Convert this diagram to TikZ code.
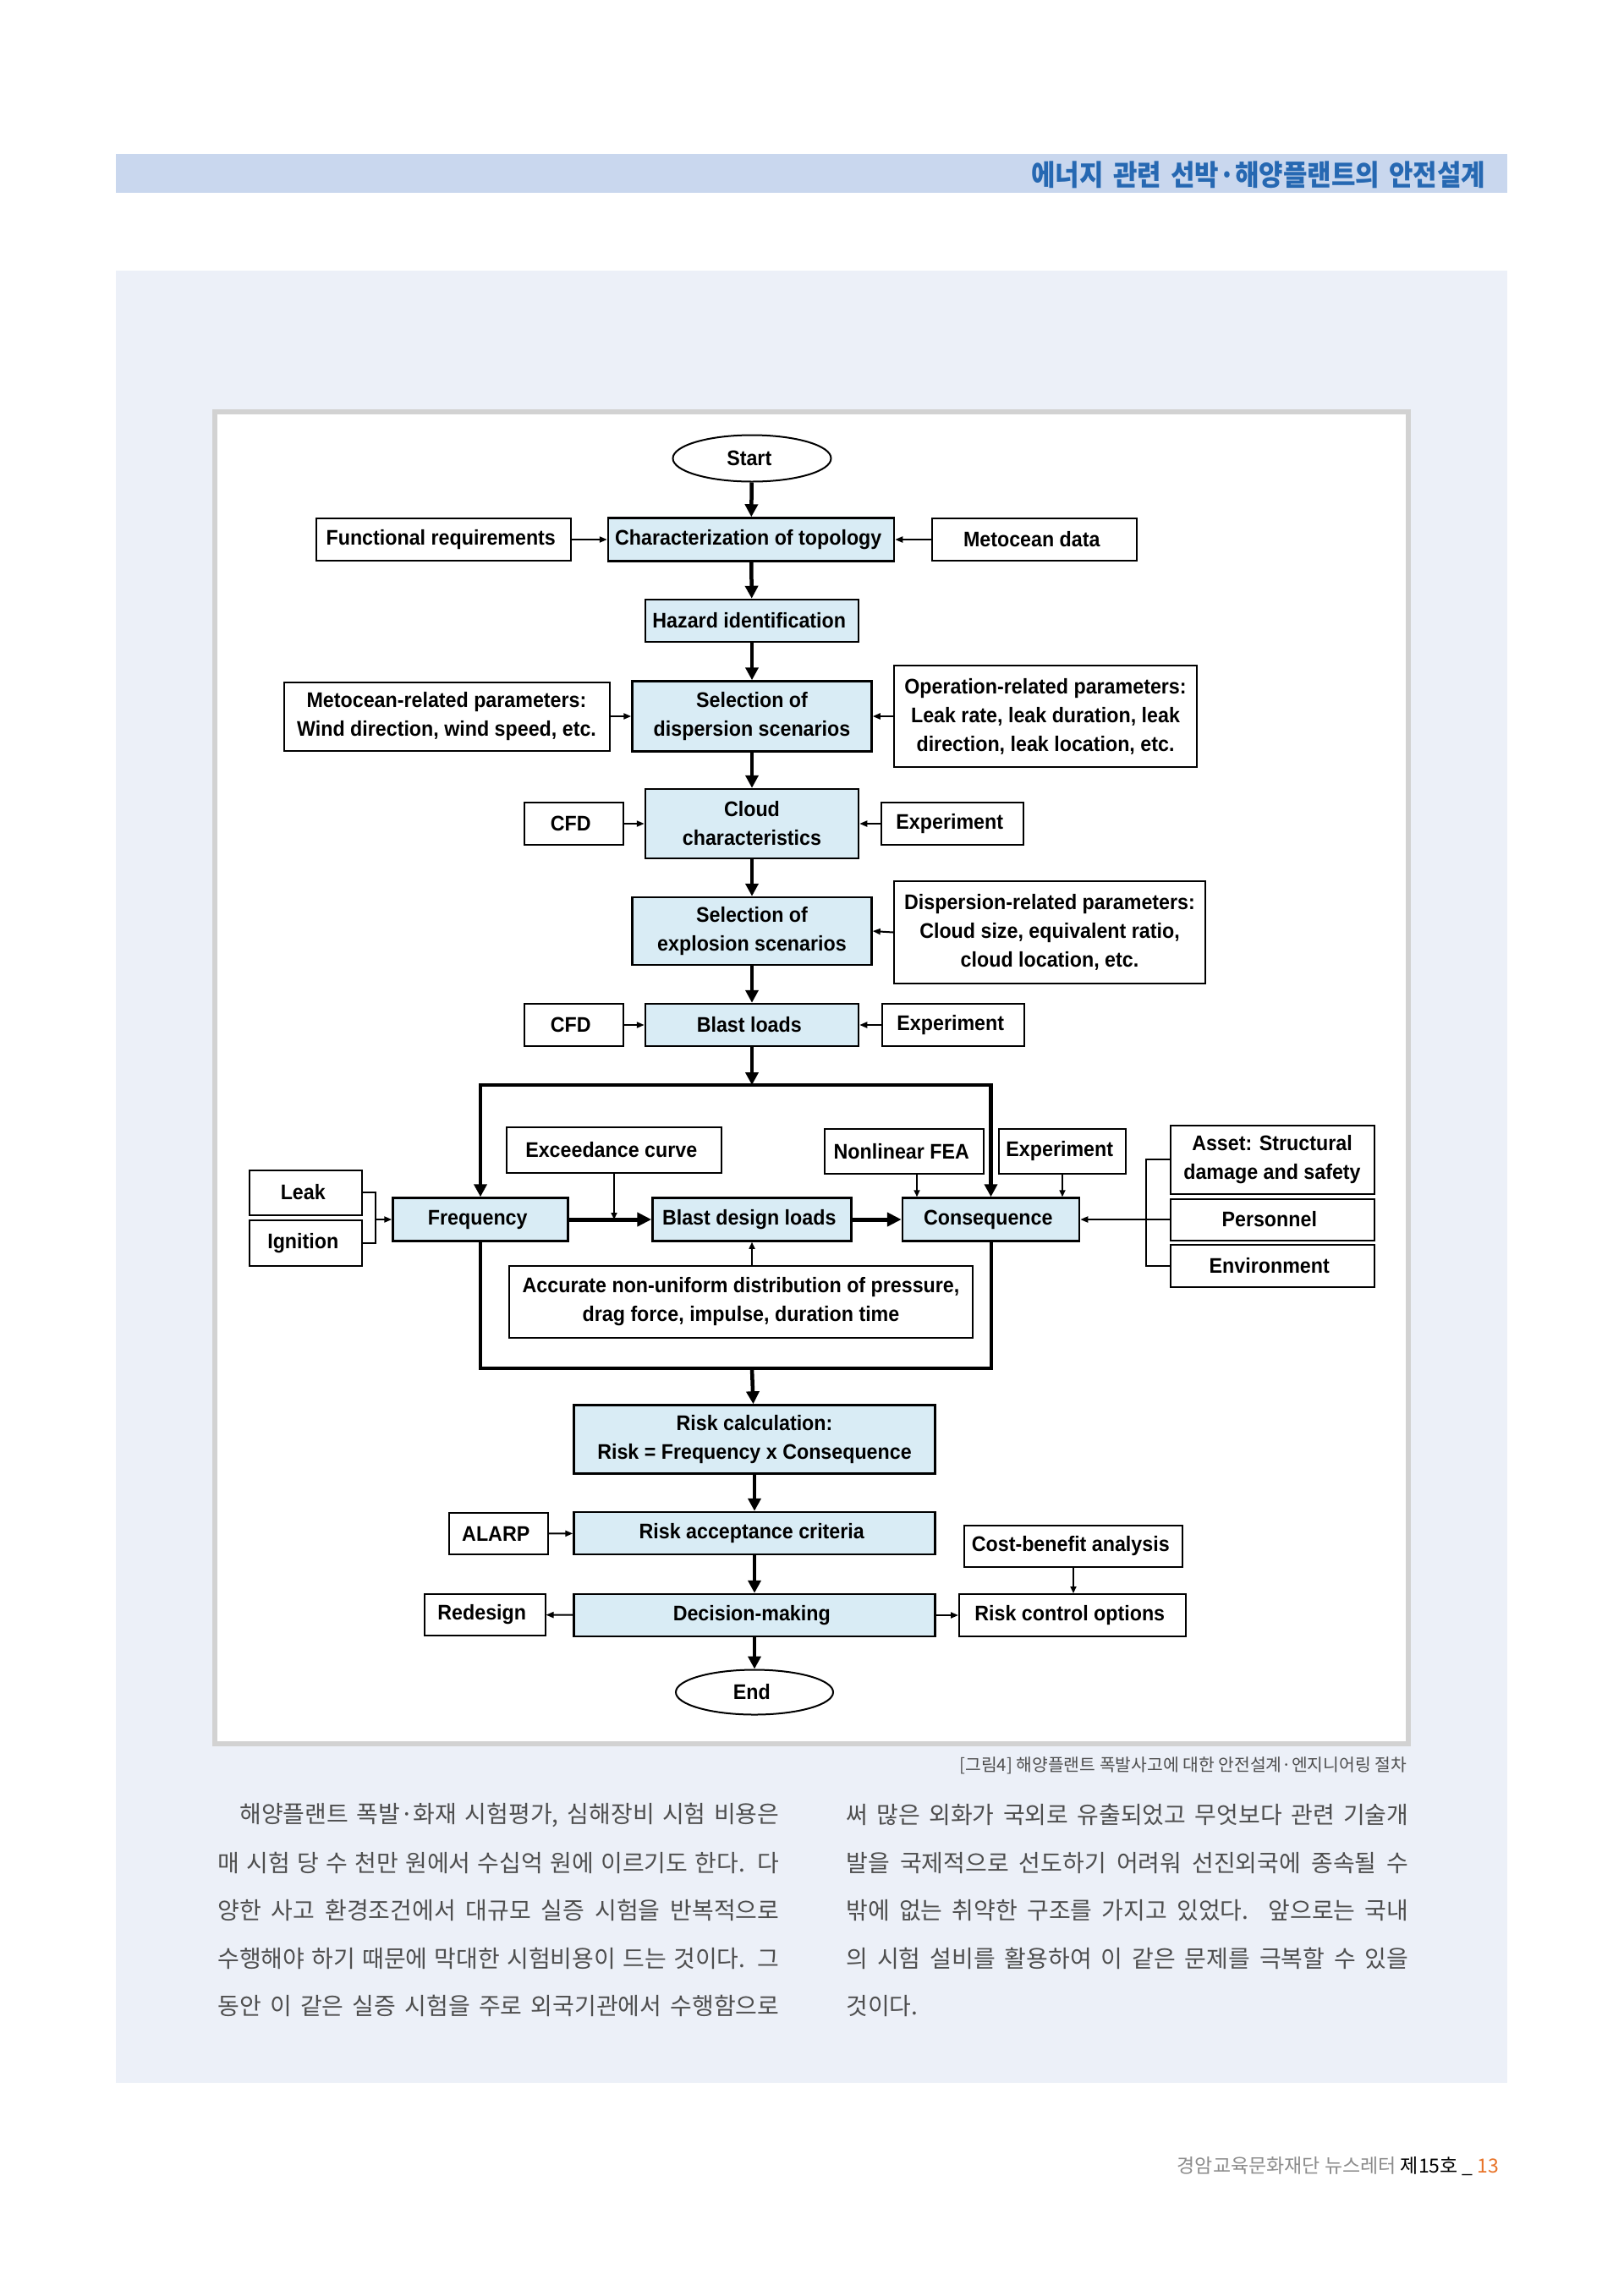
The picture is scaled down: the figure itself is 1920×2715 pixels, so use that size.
\documentclass[tikz,border=0pt]{standalone}
\usepackage{fontspec}
\usetikzlibrary{shapes.geometric, arrows.meta}
\newfontfamily\boxfont{Liberation Sans}[FakeStretch=0.93]
\newfontfamily\kofont{Noto Sans CJK KR}
\newfontfamily\headfont{Noto Sans CJK KR}[FakeStretch=0.91, WordSpace=1.6]
\definecolor{procfill}{RGB}{217,236,245}
\definecolor{panelfill}{RGB}{236,240,248}
\definecolor{barfill}{RGB}{201,215,238}
\definecolor{barblue}{RGB}{38,104,178}
\definecolor{framegray}{RGB}{210,210,210}
\definecolor{bodygray}{RGB}{78,78,78}
\definecolor{footgray}{RGB}{140,140,140}
\definecolor{pageorange}{RGB}{232,115,40}
\begin{document}
\begin{tikzpicture}[
		x = 0.5pt, y = -0.5pt,
		every node/.style = { font = \boxfont\bfseries\fontsize{12.5}{17}\selectfont, align = center, inner sep = 0pt },
		boxsize/.style 2 args = { minimum width = #1*0.5pt, minimum height = #2*0.5pt },
		process/.style = { draw, fill = procfill, line width = 1.25pt },
		input/.style = { draw, fill = white, line width = 1pt },
		terminal/.style = { draw, ellipse, fill = white, line width = 1pt },
		mainflow/.style = { line width = 2.25pt, -{Triangle[length = 7.5pt, width = 7.5pt]} },
		heavyflow/.style = { line width = 2.5pt, -{Triangle[length = 8.5pt, width = 8pt]} },
		sideflow/.style = { line width = 1pt, -{Triangle[length = 4.5pt, width = 3.5pt]} },
		thinflow/.style = { line width = 0.8pt, -{Triangle[length = 4pt, width = 3.5pt]} },
		bracket/.style = { line width = 1pt },
		loopline/.style = { line width = 2pt },
		bodytext/.style = { font = \kofont\fontsize{14}{16}\selectfont, text = bodygray, anchor = west }
	]
	% page
	\fill [white] (0, 0) rectangle (1920, 2715);
	\useasboundingbox (0, 0) rectangle (1920, 2715);
	\fill [barfill] (137, 182) rectangle (1782, 228);
	\node [anchor = east, font = \headfont\bfseries\fontsize{17}{19}\selectfont, text = barblue] (header) at (1768, 207) { 에너지 관련 선박·해양플랜트의 안전설계 };
	\fill [panelfill] (137, 320) rectangle (1782, 2463);
	\draw [framegray, fill = white, line width = 3pt] (254, 487) rectangle (1665, 2062);

	% main column
	\node [terminal, boxsize = {187}{55}] (start) at (889, 542) { Start };
	\node [process, boxsize = {338}{51}] (topo) at (888, 638) { Characterization of topology };
	\node [process, boxsize = {252}{50}] (hazard) at (889, 734) { Hazard identification };
	\node [process, boxsize = {283}{83}] (disp) at (889, 847) { Selection of\\dispersion scenarios };
	\node [process, boxsize = {252}{82}] (cloud) at (889, 974) { Cloud\\characteristics };
	\node [process, boxsize = {283}{80}] (expl) at (889, 1101) { Selection of\\explosion scenarios };
	\node [process, boxsize = {252}{50}] (blast) at (889, 1212) { Blast loads };

	% inputs of the upper part
	\node [input, boxsize = {301}{50}] (funcreq) at (524.5, 638) { Functional requirements };
	\node [input, boxsize = {242}{50}] (metdata) at (1223, 638) { Metocean data };
	\node [input, boxsize = {385}{81}] (metparam) at (528, 847) { Metocean-related parameters:\\Wind direction, wind speed, etc. };
	\node [input, boxsize = {358}{120}] (operparam) at (1236, 847) { Operation-related parameters:\\Leak rate, leak duration, leak\\direction, leak location, etc. };
	\node [input, boxsize = {117}{50}] (cfdcloud) at (678, 974) { CFD };
	\node [input, boxsize = {168}{50}] (expcloud) at (1126, 974) { Experiment };
	\node [input, boxsize = {368}{121}] (dispparam) at (1241, 1102.5) { Dispersion-related parameters:\\Cloud size, equivalent ratio,\\cloud location, etc. };
	\node [input, boxsize = {117}{50}] (cfdblast) at (678, 1212) { CFD };
	\node [input, boxsize = {168}{50}] (expblast) at (1127, 1212) { Experiment };

	% risk loop
	\node [process, boxsize = {207}{51}] (freq) at (568, 1442) { Frequency };
	\node [process, boxsize = {235}{51}] (design) at (889, 1442) { Blast design loads };
	\node [process, boxsize = {209}{51}] (conseq) at (1171.5, 1442) { Consequence };
	\node [input, boxsize = {133}{53}] (leak) at (361.5, 1410) { Leak };
	\node [input, boxsize = {133}{54}] (ignition) at (361.5, 1470) { Ignition };
	\node [input, boxsize = {254}{54}] (exceed) at (726, 1360) { Exceedance curve };
	\node [input, boxsize = {188}{53}] (fea) at (1069, 1361.5) { Nonlinear FEA };
	\node [input, boxsize = {150}{53}] (expcons) at (1256, 1361.5) { Experiment };
	\node [input, boxsize = {241}{81}] (asset) at (1504, 1371) { Asset: Structural\\damage and safety };
	\node [input, boxsize = {241}{49}] (personnel) at (1504, 1442) { Personnel };
	\node [input, boxsize = {241}{50}] (environment) at (1504, 1497) { Environment };
	\node [input, boxsize = {548}{85}] (accurate) at (876, 1539) { Accurate non-uniform distribution of pressure,\\drag force, impulse, duration time };
	\coordinate (loop top) at (889, 1283);
	\coordinate (loop bottom) at (889, 1618);
	\coordinate (leak join) at (444, 1442);
	\coordinate (impact join) at (1355, 1442);

	% lower part
	\node [process, boxsize = {427}{81}] (riskcalc) at (892, 1702) { Risk calculation:\\Risk = Frequency x Consequence };
	\node [process, boxsize = {427}{50}] (accept) at (892, 1813) { Risk acceptance criteria };
	\node [process, boxsize = {427}{50}] (decision) at (892, 1910) { Decision-making };
	\node [terminal, boxsize = {186}{53}] (end) at (892, 2001) { End };
	\node [input, boxsize = {117}{49}] (alarp) at (589.5, 1813.5) { ALARP };
	\node [input, boxsize = {258}{49}] (cost) at (1269, 1828.5) { Cost-benefit analysis };
	\node [input, boxsize = {143}{49}] (redesign) at (573, 1909.5) { Redesign };
	\node [input, boxsize = {268}{50}] (control) at (1268, 1910) { Risk control options };

	% connectors
	\draw [mainflow] (start) -- (topo);
	\draw [mainflow] (topo) -- (hazard);
	\draw [mainflow] (hazard) -- (disp);
	\draw [mainflow] (disp) -- (cloud);
	\draw [mainflow] (cloud) -- (expl);
	\draw [mainflow] (expl) -- (blast);
	\draw [sideflow] (funcreq) -- (topo);
	\draw [sideflow] (metdata) -- (topo);
	\draw [sideflow] (metparam) -- (disp);
	\draw [sideflow] (operparam) -- (disp);
	\draw [sideflow] (cfdcloud) -- (cloud);
	\draw [sideflow] (expcloud) -- (cloud);
	\draw [sideflow] (dispparam.west) -- (expl.east);
	\draw [sideflow] (cfdblast) -- (blast);
	\draw [sideflow] (expblast) -- (blast);
	\draw [mainflow] (blast) -- (loop top);
	\draw [mainflow, {Triangle[length = 7.5pt, width = 7.5pt]}-{Triangle[length = 7.5pt, width = 7.5pt]}] (freq.north) |- (loop top) -| (conseq.north);
	\draw [loopline] (freq.south) |- (loop bottom) -| (conseq.south);
	\draw [bracket] (leak.east) -| (leak join) |- (ignition.east);
	\draw [sideflow] (leak join) -- (freq.west);
	\draw [heavyflow] (freq) -- (design);
	\draw [heavyflow] (design) -- (conseq);
	\draw [thinflow] (exceed.south) -- (exceed.south |- freq.east);
	\draw [thinflow] ([xshift = 7.5pt] fea.south) -- ([xshift = 7.5pt] fea.south |- conseq.north);
	\draw [thinflow] (expcons.south) -- (expcons.south |- conseq.north);
	\draw [bracket] (asset.west) -| (impact join) |- (environment.west);
	\draw [sideflow] (personnel.west) -- (conseq.east);
	\draw [thinflow] (design.south |- accurate.north) -- (design.south);
	\draw [mainflow] (loop bottom) -- (riskcalc);
	\draw [mainflow] (riskcalc) -- (accept);
	\draw [mainflow] (accept) -- (decision);
	\draw [mainflow] (decision) -- (end);
	\draw [sideflow] (alarp) -- (accept);
	\draw [sideflow] (decision) -- (redesign);
	\draw [sideflow] (decision) -- (control);
	\draw [thinflow] (cost.south) -- (cost.south |- control.north);

	% caption and text
	\node [anchor = east, font = \kofont\fontsize{10.2}{12}\selectfont, text = bodygray] (caption) at (1668, 2088) { [그림4] 해양플랜트 폭발사고에 대한 안전설계·엔지니어링 절차 };
	\node [bodytext] (left one) at (283, 2146) { \makebox[319pt][s]{해양플랜트 폭발·화재 시험평가, 심해장비 시험 비용은} };
	\node [bodytext] (left two) at (257, 2203) { \makebox[332pt][s]{매 시험 당 수 천만 원에서 수십억 원에 이르기도 한다. 다} };
	\node [bodytext] (left three) at (257, 2259) { \makebox[332pt][s]{양한 사고 환경조건에서 대규모 실증 시험을 반복적으로} };
	\node [bodytext] (left four) at (257, 2316) { \makebox[332pt][s]{수행해야 하기 때문에 막대한 시험비용이 드는 것이다. 그} };
	\node [bodytext] (left five) at (257, 2372) { \makebox[332pt][s]{동안 이 같은 실증 시험을 주로 외국기관에서 수행함으로} };
	\node [bodytext] (right one) at (1000, 2146) { \makebox[332.5pt][s]{써 많은 외화가 국외로 유출되었고 무엇보다 관련 기술개} };
	\node [bodytext] (right two) at (1000, 2203) { \makebox[332.5pt][s]{발을 국제적으로 선도하기 어려워 선진외국에 종속될 수} };
	\node [bodytext] (right three) at (1000, 2259) { \makebox[332.5pt][s]{밖에 없는 취약한 구조를 가지고 있었다. 앞으로는 국내} };
	\node [bodytext] (right four) at (1000, 2316) { \makebox[332.5pt][s]{의 시험 설비를 활용하여 이 같은 문제를 극복할 수 있을} };
	\node [bodytext] (right five) at (1000, 2372) { 것이다. };
	\node [anchor = east, font = \kofont\fontsize{11.5}{13}\selectfont] (footer) at (1778, 2562) { \textcolor{footgray}{경암교육문화재단 뉴스레터} 제15호 \_ \textcolor{pageorange}{13} };
\end{tikzpicture}
\end{document}
